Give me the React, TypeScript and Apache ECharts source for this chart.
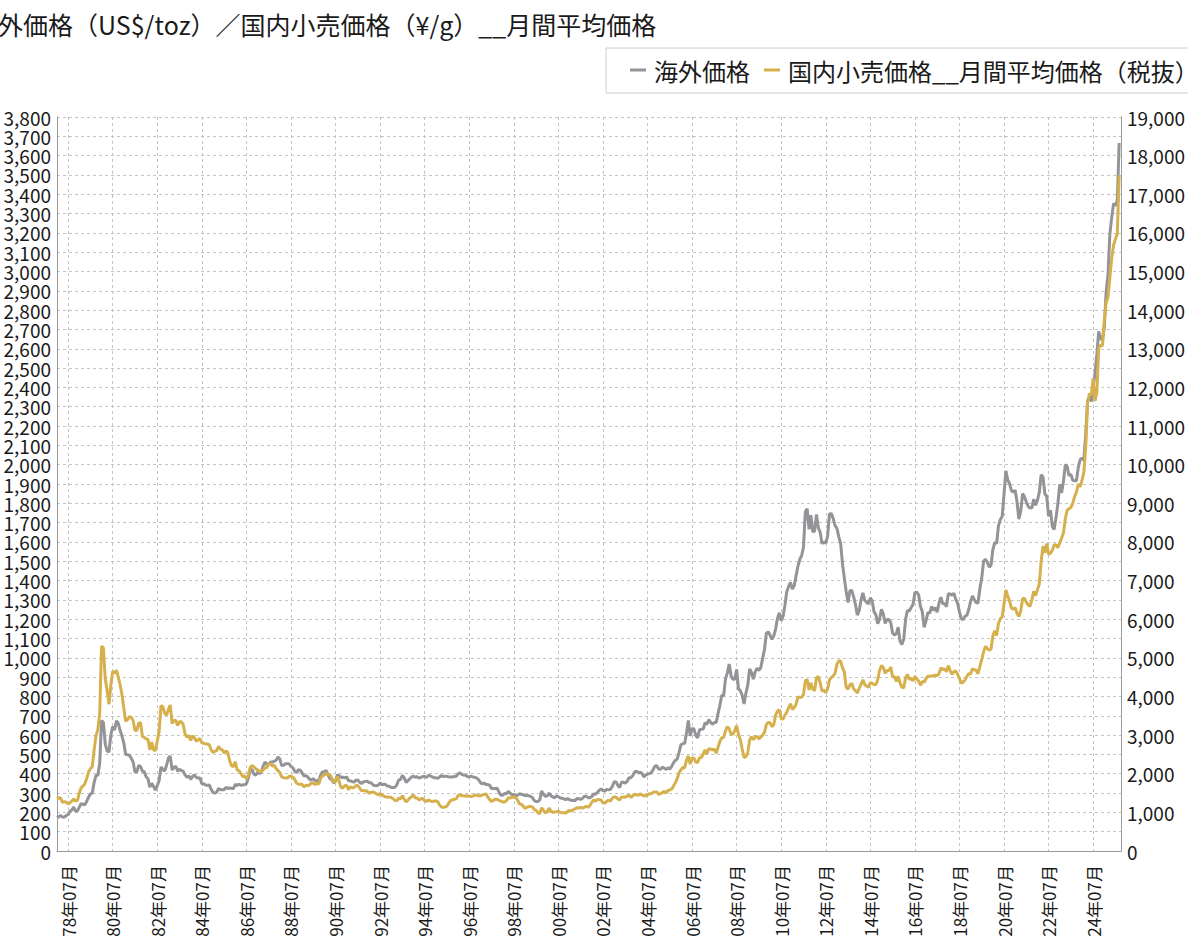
import React, { useEffect, useRef } from "react";
import * as echarts from "echarts";

const FONT = "'Noto Sans CJK JP', 'Noto Sans', sans-serif";
const TITLE = "海外価格（US$/toz）／国内小売価格（¥/g）__月間平均価格";
const SERIES_NAMES = ["海外価格", "国内小売価格__月間平均価格（税抜）"];

// Category range: 1978年01月 .. 2025年10月
const FIRST_YEAR = 1978;
const LAST_YEAR = 2025;
const LAST_MONTH = 10;
const MONTH_LABELS = ["01", "02", "03", "04", "05", "06", "07", "08", "09", "10", "11", "12"];

// 海外価格 (US$/toz), monthly averages
const OVERSEAS_1978_1989 = [
  173.2, 178.2, 183.7, 175.3, 176.3, 183.7, 188.7, 206.1, 212.0, 227.3, 206.0, 207.8,
  227.3, 245.7, 242.1, 239.2, 257.5, 279.1, 294.7, 300.8, 355.1, 391.7, 392.5, 455.1,
  675.3, 665.3, 553.6, 517.4, 513.8, 600.7, 644.3, 626.5, 673.6, 661.1, 623.5, 594.9,
  557.4, 499.8, 498.6, 495.8, 479.7, 460.8, 409.3, 410.1, 443.2, 437.8, 413.4, 410.1,
  384.2, 374.2, 330.4, 350.5, 333.9, 314.9, 339.5, 364.3, 435.7, 422.2, 414.1, 444.3,
  481.3, 491.4, 419.7, 432.8, 438.4, 412.6, 422.9, 416.3, 411.8, 393.8, 381.6, 388.0,
  370.9, 386.4, 394.3, 381.1, 377.5, 377.9, 347.7, 348.0, 341.1, 340.1, 341.6, 320.2,
  302.9, 299.1, 304.0, 324.0, 316.6, 316.8, 317.4, 329.3, 324.0, 325.8, 325.3, 322.4,
  345.5, 338.9, 345.7, 340.4, 342.5, 342.8, 348.5, 376.8, 418.5, 423.3, 398.3, 391.9,
  408.2, 401.0, 408.9, 438.4, 460.2, 449.6, 450.5, 460.9, 460.2, 465.5, 469.1, 486.3,
  477.0, 442.2, 443.6, 451.6, 451.6, 451.8, 437.4, 431.1, 413.4, 406.8, 420.3, 418.6,
  404.2, 387.8, 390.1, 384.2, 371.5, 367.6, 375.0, 365.3, 362.6, 366.6, 394.1, 409.6,
];
const OVERSEAS_1990_1999 = [
  410.1, 416.8, 393.1, 374.3, 369.1, 352.3, 362.6, 395.0, 389.3, 380.7, 381.9, 378.2,
  383.6, 363.3, 363.5, 358.4, 356.8, 366.7, 367.7, 356.2, 348.7, 358.6, 359.6, 361.8,
  354.5, 353.9, 344.3, 338.6, 337.2, 340.8, 352.7, 342.9, 345.4, 344.4, 335.0, 334.7,
  329.0, 329.3, 330.1, 342.2, 367.2, 371.0, 392.0, 378.6, 355.1, 364.2, 373.8, 383.3,
  386.9, 381.8, 384.1, 377.3, 381.4, 385.6, 385.5, 380.4, 391.6, 389.8, 384.4, 379.3,
  378.6, 376.5, 382.1, 391.0, 385.1, 387.6, 386.2, 383.7, 383.1, 383.0, 385.5, 387.0,
  400.0, 404.8, 396.3, 393.0, 391.9, 385.3, 383.5, 387.5, 383.1, 381.1, 377.9, 369.3,
  355.0, 346.6, 351.8, 344.5, 343.8, 340.8, 324.1, 324.0, 322.8, 324.9, 306.0, 288.7,
  289.1, 297.5, 295.9, 308.3, 299.4, 292.3, 292.9, 284.1, 289.0, 295.9, 294.1, 291.6,
  287.1, 287.2, 285.9, 282.6, 276.4, 261.3, 256.1, 256.7, 264.7, 310.7, 293.2, 283.1,
];
const OVERSEAS_2000_2009 = [
  284.6, 299.9, 286.4, 279.7, 275.2, 285.7, 281.6, 274.5, 273.7, 270.0, 266.0, 271.5,
  265.5, 261.9, 263.0, 260.5, 272.4, 270.2, 267.5, 272.4, 283.4, 283.1, 276.2, 275.9,
  281.7, 295.5, 294.0, 302.7, 314.5, 321.2, 313.3, 310.3, 319.2, 316.6, 319.2, 333.4,
  356.9, 359.0, 340.6, 328.2, 355.7, 356.4, 351.0, 359.8, 378.9, 378.9, 389.9, 407.6,
  414.0, 405.3, 406.7, 403.0, 383.8, 392.4, 398.1, 400.5, 405.3, 420.5, 439.4, 442.1,
  424.0, 423.4, 434.2, 428.9, 421.9, 430.7, 424.5, 437.9, 456.0, 469.9, 476.7, 510.1,
  549.9, 555.0, 557.1, 610.7, 675.4, 596.2, 633.7, 632.6, 598.2, 585.8, 627.8, 629.8,
  631.2, 664.8, 654.9, 679.4, 666.9, 655.5, 665.3, 665.4, 712.7, 754.6, 806.3, 803.2,
  889.6, 922.3, 968.4, 909.7, 888.7, 889.5, 939.8, 839.0, 829.9, 806.6, 760.9, 816.1,
  858.7, 943.2, 924.3, 890.2, 928.6, 945.7, 934.2, 949.4, 996.6, 1043.2, 1127.0, 1134.7,
];
const OVERSEAS_2010_2019 = [
  1117.9, 1095.4, 1113.3, 1148.7, 1205.4, 1232.9, 1193.0, 1215.8, 1271.0, 1342.0, 1369.9, 1390.6,
  1356.4, 1372.7, 1424.0, 1473.8, 1510.4, 1528.7, 1572.8, 1755.8, 1771.9, 1665.2, 1738.0, 1652.3,
  1656.1, 1742.6, 1673.8, 1649.7, 1591.2, 1598.8, 1594.3, 1630.3, 1744.8, 1746.6, 1721.6, 1684.8,
  1671.9, 1627.6, 1593.1, 1487.9, 1414.0, 1343.4, 1286.7, 1347.1, 1348.6, 1316.6, 1275.8, 1221.5,
  1244.3, 1299.6, 1336.1, 1299.0, 1287.5, 1279.1, 1310.6, 1295.1, 1238.8, 1222.5, 1176.3, 1200.6,
  1251.8, 1227.1, 1178.6, 1197.9, 1198.6, 1181.5, 1128.3, 1117.9, 1124.8, 1159.3, 1086.4, 1068.3,
  1097.9, 1199.5, 1245.1, 1242.3, 1260.9, 1276.4, 1337.3, 1340.2, 1326.6, 1266.6, 1238.4, 1157.4,
  1192.1, 1234.2, 1231.4, 1266.9, 1246.0, 1260.3, 1236.8, 1283.0, 1314.1, 1279.5, 1281.9, 1264.5,
  1331.3, 1330.7, 1324.7, 1334.8, 1303.5, 1281.6, 1237.7, 1201.7, 1198.4, 1215.4, 1220.7, 1250.4,
  1291.8, 1320.1, 1300.9, 1285.9, 1283.7, 1359.0, 1412.9, 1500.4, 1510.6, 1494.8, 1470.0, 1479.1,
];
const OVERSEAS_2020_2025 = [
  1560.7, 1597.1, 1591.9, 1683.2, 1715.9, 1732.2, 1846.5, 1968.6, 1921.9, 1900.3, 1866.3, 1858.4,
  1867.6, 1808.2, 1718.2, 1760.0, 1850.3, 1834.6, 1807.8, 1785.3, 1775.1, 1776.6, 1821.1, 1789.8,
  1816.0, 1856.3, 1947.8, 1936.0, 1848.5, 1836.6, 1733.0, 1764.6, 1680.6, 1664.5, 1726.0, 1797.6,
  1897.8, 1854.1, 1912.7, 2000.3, 1991.2, 1942.9, 1951.0, 1918.7, 1916.8, 1916.7, 1985.5, 2026.6,
  2033.0, 2024.1, 2158.8, 2331.5, 2351.5, 2326.7, 2398.8, 2470.6, 2570.5, 2690.0, 2651.0, 2648.0,
  2709.7, 2894.0, 2984.2, 3193.2, 3280.0, 3352.7, 3340.2, 3368.0, 3665.0,
];

// 国内小売価格__月間平均価格（税抜） (¥/g)
const DOMESTIC_1978_1989 = [
  1350, 1380, 1360, 1260, 1280, 1260, 1220, 1250, 1290, 1350, 1290, 1310,
  1500, 1640, 1680, 1740, 1880, 2050, 2130, 2180, 2620, 2980, 3150, 3560,
  5300, 5260, 4450, 4150, 3800, 4300, 4650, 4600, 4680, 4500, 4300, 4050,
  3690, 3360, 3400, 3480, 3460, 3380, 3120, 3120, 3310, 3320, 2960, 2940,
  2900, 2890, 2620, 2820, 2620, 2600, 2850, 3090, 3760, 3740, 3560, 3520,
  3660, 3780, 3300, 3380, 3380, 3250, 3350, 3340, 3270, 3020, 2950, 2990,
  2860, 2980, 2930, 2840, 2880, 2910, 2800, 2790, 2770, 2770, 2750, 2620,
  2550, 2580, 2600, 2710, 2640, 2620, 2540, 2590, 2550, 2330, 2210, 2180,
  2310, 2100, 2080, 2010, 1930, 1940, 1870, 1960, 2160, 2210, 2180, 2130,
  2100, 2050, 2070, 2100, 2150, 2160, 2250, 2260, 2200, 2220, 2130, 2080,
  2030, 1920, 1900, 1890, 1890, 1930, 1940, 1910, 1850, 1760, 1730, 1730,
  1720, 1660, 1700, 1690, 1710, 1760, 1760, 1720, 1750, 1730, 1890, 1940,
];
const DOMESTIC_1990_1999 = [
  1970, 2020, 1990, 1970, 1890, 1790, 1800, 1930, 1790, 1640, 1640, 1690,
  1700, 1590, 1660, 1640, 1640, 1700, 1690, 1630, 1560, 1570, 1550, 1560,
  1490, 1520, 1530, 1510, 1480, 1450, 1490, 1450, 1420, 1400, 1400, 1390,
  1390, 1350, 1310, 1300, 1370, 1350, 1430, 1340, 1270, 1320, 1370, 1410,
  1450, 1370, 1370, 1320, 1350, 1360, 1300, 1290, 1320, 1300, 1280, 1290,
  1300, 1280, 1190, 1140, 1130, 1140, 1160, 1240, 1310, 1320, 1340, 1350,
  1440, 1450, 1430, 1430, 1420, 1430, 1420, 1410, 1420, 1450, 1440, 1430,
  1430, 1450, 1460, 1480, 1400, 1330, 1280, 1310, 1340, 1340, 1310, 1290,
  1270, 1270, 1300, 1380, 1370, 1390, 1400, 1390, 1320, 1220, 1210, 1170,
  1100, 1130, 1150, 1150, 1140, 1080, 1050, 990, 970, 1120, 1050, 990,
];
const DOMESTIC_2000_2009 = [
  1010, 1110, 1030, 1000, 1010, 1020, 1030, 1000, 990, 990, 980, 1030,
  1050, 1030, 1070, 1090, 1120, 1110, 1130, 1110, 1130, 1160, 1130, 1180,
  1260, 1320, 1290, 1330, 1330, 1320, 1240, 1240, 1290, 1310, 1290, 1360,
  1400, 1400, 1350, 1320, 1400, 1400, 1390, 1420, 1450, 1390, 1420, 1470,
  1460, 1440, 1480, 1450, 1430, 1430, 1450, 1480, 1480, 1520, 1530, 1530,
  1470, 1480, 1520, 1540, 1500, 1560, 1580, 1600, 1680, 1770, 1870, 2030,
  2100, 2160, 2150, 2350, 2460, 2250, 2410, 2410, 2300, 2290, 2410, 2420,
  2510, 2620, 2510, 2650, 2640, 2620, 2640, 2530, 2690, 2840, 2930, 2940,
  3110, 3220, 3160, 3030, 3020, 3110, 3250, 3020, 2880, 2640, 2420, 2440,
  2540, 2870, 2960, 2880, 2950, 2970, 2900, 2950, 3000, 3070, 3270, 3330,
];
const DOMESTIC_2010_2019 = [
  3320, 3220, 3270, 3520, 3620, 3660, 3430, 3410, 3520, 3590, 3710, 3810,
  3670, 3710, 3800, 3980, 3980, 3980, 4050, 4400, 4440, 4170, 4350, 4190,
  4150, 4480, 4520, 4350, 4140, 4160, 4100, 4190, 4430, 4490, 4530, 4600,
  4830, 4920, 4920, 4740, 4640, 4240, 4190, 4300, 4340, 4200, 4150, 4090,
  4210, 4310, 4430, 4310, 4270, 4240, 4350, 4340, 4310, 4300, 4440, 4680,
  4800, 4750, 4600, 4670, 4670, 4760, 4510, 4510, 4390, 4520, 4350, 4240,
  4220, 4490, 4570, 4440, 4470, 4400, 4520, 4450, 4400, 4290, 4390, 4370,
  4460, 4530, 4520, 4530, 4540, 4550, 4540, 4590, 4740, 4700, 4710, 4640,
  4800, 4670, 4570, 4640, 4660, 4580, 4470, 4340, 4370, 4430, 4520, 4590,
  4580, 4720, 4690, 4680, 4590, 4770, 4960, 5160, 5300, 5240, 5200, 5230,
];
const DOMESTIC_2020_2025 = [
  5570, 5700, 5580, 5890, 6010, 6060, 6400, 6760, 6600, 6470, 6290, 6260,
  6300, 6150, 6070, 6220, 6530, 6540, 6440, 6370, 6330, 6500, 6720, 6610,
  6760, 6910, 7500, 7890, 7720, 7960, 7680, 7710, 7780, 7920, 7930, 7850,
  7980, 8100, 8230, 8600, 8820, 8860, 8890, 9000, 9170, 9290, 9500, 9430,
  9590, 9810, 10460, 11590, 11840, 11800, 12240, 11650, 11870, 13020, 13090, 13080,
  13730, 14190, 14340, 14840, 15340, 15680, 15840, 15970, 17490,
];

const OVERSEAS = [
  ...OVERSEAS_1978_1989,
  ...OVERSEAS_1990_1999,
  ...OVERSEAS_2000_2009,
  ...OVERSEAS_2010_2019,
  ...OVERSEAS_2020_2025,
];
const DOMESTIC = [
  ...DOMESTIC_1978_1989,
  ...DOMESTIC_1990_1999,
  ...DOMESTIC_2000_2009,
  ...DOMESTIC_2010_2019,
  ...DOMESTIC_2020_2025,
];

const CATEGORIES: string[] = [];
for (let y = FIRST_YEAR; y <= LAST_YEAR; y++) {
  for (let m = 0; m < 12; m++) {
    if (y === LAST_YEAR && m + 1 > LAST_MONTH) break;
    CATEGORIES.push(`${y}年${MONTH_LABELS[m]}月`);
  }
}

const GRAY = "#939398";
const GOLD = "#D5B04C";
const TEXT = "#1a1a1a";
const AXIS = "#9a9a9a";
const GRID = "#c4c4c4";

const fmt = (v: number) => v.toLocaleString("en-US");
const showIdx = (i: number) => i % 24 === 6;

export default function App() {
  const ref = useRef<HTMLDivElement>(null);
  useEffect(() => {
    if (!ref.current) return;
    const chart = echarts.init(ref.current, null, { renderer: "svg" });
    chart.setOption({
      animation: false,
      textStyle: { fontFamily: FONT },
      title: {
        text: TITLE,
        left: -27,
        top: 11,
        padding: 0,
        textStyle: { fontSize: 25, fontWeight: "normal", color: TEXT, fontFamily: FONT },
      },
      legend: {
        left: 606,
        top: 48,
        width: 640,
        padding: [10, 3, 11, 24],
        borderColor: "#cccccc",
        borderWidth: 1,
        icon: "rect",
        itemWidth: 16,
        itemHeight: 3,
        itemGap: 14,
        textStyle: { fontSize: 24, color: TEXT, fontFamily: FONT, padding: [0, 0, 0, 3] },
        data: SERIES_NAMES,
      },
      grid: {
        left: 57,
        right: 67,
        top: 117,
        bottom: 85,
        containLabel: false,
        outerBoundsMode: "none",
      },
      xAxis: {
        type: "category",
        data: CATEGORIES,
        boundaryGap: false,
        axisLine: { show: true, lineStyle: { color: AXIS, width: 1 } },
        axisTick: { show: false },
        axisLabel: {
          interval: (i: number) => showIdx(i),
          rotate: 90,
          margin: 14,
          fontSize: 17,
          color: TEXT,
          fontFamily: FONT,
          padding: [6, 0, 0, 0],
        },
        splitLine: {
          show: true,
          interval: (i: number) => showIdx(i),
          lineStyle: { color: GRID, type: [3, 3], width: 1 },
        },
      },
      yAxis: [
        {
          type: "value",
          min: 0,
          max: 3800,
          interval: 100,
          axisLine: { show: true, lineStyle: { color: AXIS, width: 1 } },
          axisTick: { show: false },
          axisLabel: { formatter: fmt, fontSize: 19, color: TEXT, margin: 6, fontFamily: FONT },
          splitLine: { show: true, lineStyle: { color: GRID, type: [3, 3], width: 1 } },
        },
        {
          type: "value",
          min: 0,
          max: 19000,
          interval: 1000,
          position: "right",
          axisLine: { show: true, lineStyle: { color: AXIS, width: 1 } },
          axisTick: { show: false },
          axisLabel: { formatter: fmt, fontSize: 19, color: TEXT, margin: 6, fontFamily: FONT },
          splitLine: { show: false },
        },
      ],
      series: [
        {
          name: SERIES_NAMES[0],
          type: "line",
          data: OVERSEAS,
          yAxisIndex: 0,
          showSymbol: false,
          symbol: "none",
          lineStyle: { color: GRAY, width: 3 },
          itemStyle: { color: GRAY },
        },
        {
          name: SERIES_NAMES[1],
          type: "line",
          data: DOMESTIC,
          yAxisIndex: 1,
          showSymbol: false,
          symbol: "none",
          lineStyle: { color: GOLD, width: 3 },
          itemStyle: { color: GOLD },
        },
      ],
    });
    return () => chart.dispose();
  }, []);
  return (
    <div
      ref={ref}
      style={{ position: "fixed", left: 0, top: 0, width: 1188, height: 936, background: "#ffffff" }}
    />
  );
}
